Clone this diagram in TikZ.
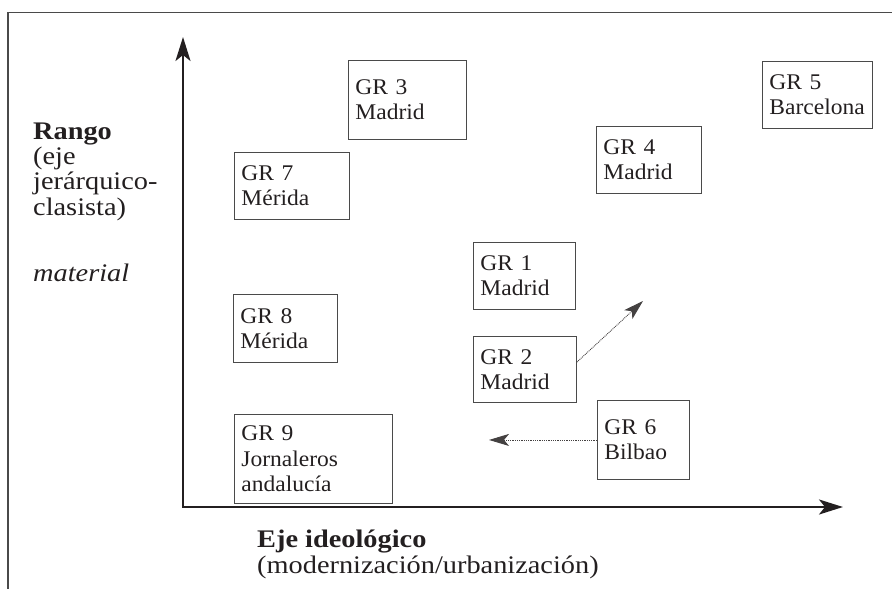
\documentclass[tikz,border=0pt]{standalone}
\usepackage{fontspec}
\setmainfont{Liberation Serif}
\newfontfamily\boxserif[FakeStretch=1.05]{Liberation Serif}
\newfontfamily\axisserif[FakeStretch=1.12]{Liberation Serif}
\usetikzlibrary{arrows.meta,calc}

\definecolor{ink}{HTML}{231F20}
\definecolor{rule}{HTML}{4A4A4A}

\newcommand{\labelfont}{\boxserif\fontsize{22.4}{25.3}\selectfont}
\newcommand{\axisfont}{\axisserif\fontsize{25.3}{25.3}\selectfont}

\tikzset{
  grbox/.style={draw=rule, line width=0.9pt, anchor=north west,
    inner xsep=7pt, inner ysep=0pt, align=left, text=ink, font=\labelfont},
  axisline/.style={draw=ink, line width=2.2pt,
    {Stealth[length=24pt,width=15pt,inset=6pt]}-{Stealth[length=24pt,width=15pt,inset=6pt]}},
  moveline/.style={draw=ink!85, line width=0.9pt, dash pattern=on 0.9pt off 0.9pt,
    -{Stealth[length=20pt,width=12pt,inset=5pt]}},
  frameline/.style={draw=rule, line width=1.3pt},
  axislabel/.style={inner sep=0pt, align=left, text=ink, font=\axisfont}
}

\begin{document}
\begin{tikzpicture}[x=1pt,y=-1pt]
  \useasboundingbox (0,0) rectangle (892,589);

  % open frame: top rule and left rule
  \coordinate (fTL) at (8,12.5);
  \coordinate (fTR) at (892,12.5);
  \coordinate (fBL) at (8,589);
  \draw[frameline] (fTR) -- (fTL) -- (fBL);

  % axes
  \coordinate (O) at (183,507);
  \coordinate (ytip) at (183,37);
  \coordinate (xtip) at (843,507);
  \draw[axisline] (ytip) -- (O) -- (xtip);

  % group boxes
  \node[grbox, text width=104pt, minimum height=79pt] (gr3) at (348,60) {GR 3\\Madrid};
  \node[grbox, text width=96pt,  minimum height=67pt] (gr5) at (762,61) {GR 5\\Barcelona};
  \node[grbox, text width=101pt, minimum height=67pt] (gr7) at (234,152) {GR 7\\Mérida};
  \node[grbox, text width=91pt,  minimum height=67pt] (gr4) at (596,126) {GR 4\\Madrid};
  \node[grbox, text width=88pt,  minimum height=67pt] (gr1) at (473,242) {GR 1\\Madrid};
  \node[grbox, text width=90pt,  minimum height=68pt] (gr8) at (233,294) {GR 8\\Mérida};
  \node[grbox, text width=89pt,  minimum height=66pt] (gr2) at (473,336) {GR 2\\Madrid};
  \node[grbox, text width=78pt,  minimum height=79pt] (gr6) at (597,400) {GR 6\\Bilbao};
  \node[grbox, text width=144pt, minimum height=89pt] (gr9) at (234,414) {GR 9\\Jornaleros\\andalucía};

  % displacements
  \coordinate (t1) at (643,301);
  \coordinate (t2) at (489,440);
  \draw[moveline] ($(gr2.north east)!0.39!(gr2.south east)$) -- (t1);
  \draw[moveline] (gr6.west) -- (gr6.west -| t2);

  % axis labels (base anchor = baseline of the last line)
  \node[axislabel, anchor=base west] (rango) at (33,215)
    {\textbf{Rango}\\(eje\\jerárquico-\\clasista)};
  \node[axislabel, anchor=base west] (mat) at (33,281) {\textit{material}};
  \node[axislabel, anchor=base west] (ideo) at (257,573)
    {\textbf{Eje ideológico}\\(modernización/urbanización)};
\end{tikzpicture}
\end{document}
